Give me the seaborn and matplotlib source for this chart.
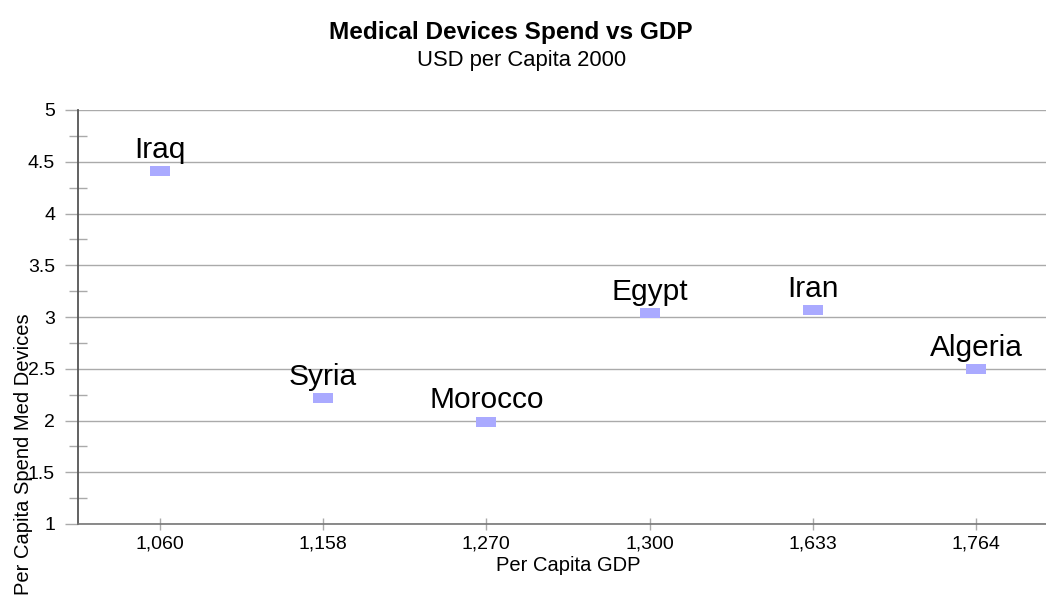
import matplotlib
matplotlib.use("Agg")
import matplotlib.pyplot as plt
import seaborn as sns
import pandas as pd
from matplotlib.path import Path
from matplotlib.ticker import MultipleLocator

countries = ["Iraq", "Syria", "Morocco", "Egypt", "Iran", "Algeria"]
gdp_labels = ["1,060", "1,158", "1,270", "1,300", "1,633", "1,764"]
spend = [4.41, 2.22, 1.99, 3.04, 3.07, 2.50]

df = pd.DataFrame({"gdp": gdp_labels, "spend": spend, "country": countries})

sns.set_theme(style="white")
plt.rcParams["font.family"] = ["Liberation Sans", "DejaVu Sans"]

fig = plt.figure(figsize=(10.46, 5.95), dpi=100)
W, H = 1046, 595
left, right, top, bottom = 78, 1058, 110, 524
ax = fig.add_axes([left / W, 1 - bottom / H, (right - left) / W, (bottom - top) / H])

rect = Path([(-1, -0.5), (1, -0.5), (1, 0.5), (-1, 0.5), (-1, -0.5)],
            [Path.MOVETO, Path.LINETO, Path.LINETO, Path.LINETO, Path.CLOSEPOLY])

sns.scatterplot(data=df, x="gdp", y="spend", ax=ax, marker=rect, s=207,
                color="#aaaaff", edgecolor="none", linewidth=0, zorder=3)

for i, (name, val) in enumerate(zip(countries, spend)):
    ax.annotate(name, (i, val), xytext=(0, 9.5), textcoords="offset points",
                ha="center", va="baseline", fontsize=21.5, color="black")

ax.set_xlim(-0.5, 5.5)
ax.set_ylim(1, 5)
ax.yaxis.set_major_locator(MultipleLocator(0.5))
ax.yaxis.set_minor_locator(MultipleLocator(0.25))
ax.yaxis.set_major_formatter(matplotlib.ticker.FuncFormatter(lambda v, p: f"{v:g}"))

ax.grid(axis="y", which="major", color="#aaaaaa", linewidth=1)
ax.grid(axis="x", visible=False)
ax.set_axisbelow(True)

ax.spines["right"].set_visible(False)
ax.spines["top"].set_visible(False)
ax.spines["left"].set_color("#555555")
ax.spines["left"].set_linewidth(1.3)
ax.spines["bottom"].set_color("#777777")
ax.spines["bottom"].set_linewidth(1.2)

ax.tick_params(axis="y", which="major", direction="out", length=9.5, width=1,
               color="#aaaaaa", pad=7, labelsize=14, labelcolor="black", left=True)
ax.tick_params(axis="y", which="minor", direction="inout", length=13, width=1,
               color="#aaaaaa", left=True)
ax.tick_params(axis="x", which="major", direction="inout", length=9, width=1,
               color="#aaaaaa", pad=4, labelsize=14, labelcolor="black", bottom=True)

ax.set_xlabel("Per Capita GDP", fontsize=14.5, labelpad=2, color="black")
ax.set_ylabel("Per Capita Spend Med Devices", fontsize=14.5, color="black")
ax.yaxis.set_label_coords(-0.046, 0.169)

fig.text(511 / W, 1 - 39 / H, "Medical Devices Spend vs GDP", ha="center",
         va="baseline", fontsize=17.6, fontweight="bold", color="black")
fig.text(522 / W, 1 - 66 / H, "USD per Capita 2000", ha="center",
         va="baseline", fontsize=15.8, color="black")

fig.savefig("out.png", dpi=100)
